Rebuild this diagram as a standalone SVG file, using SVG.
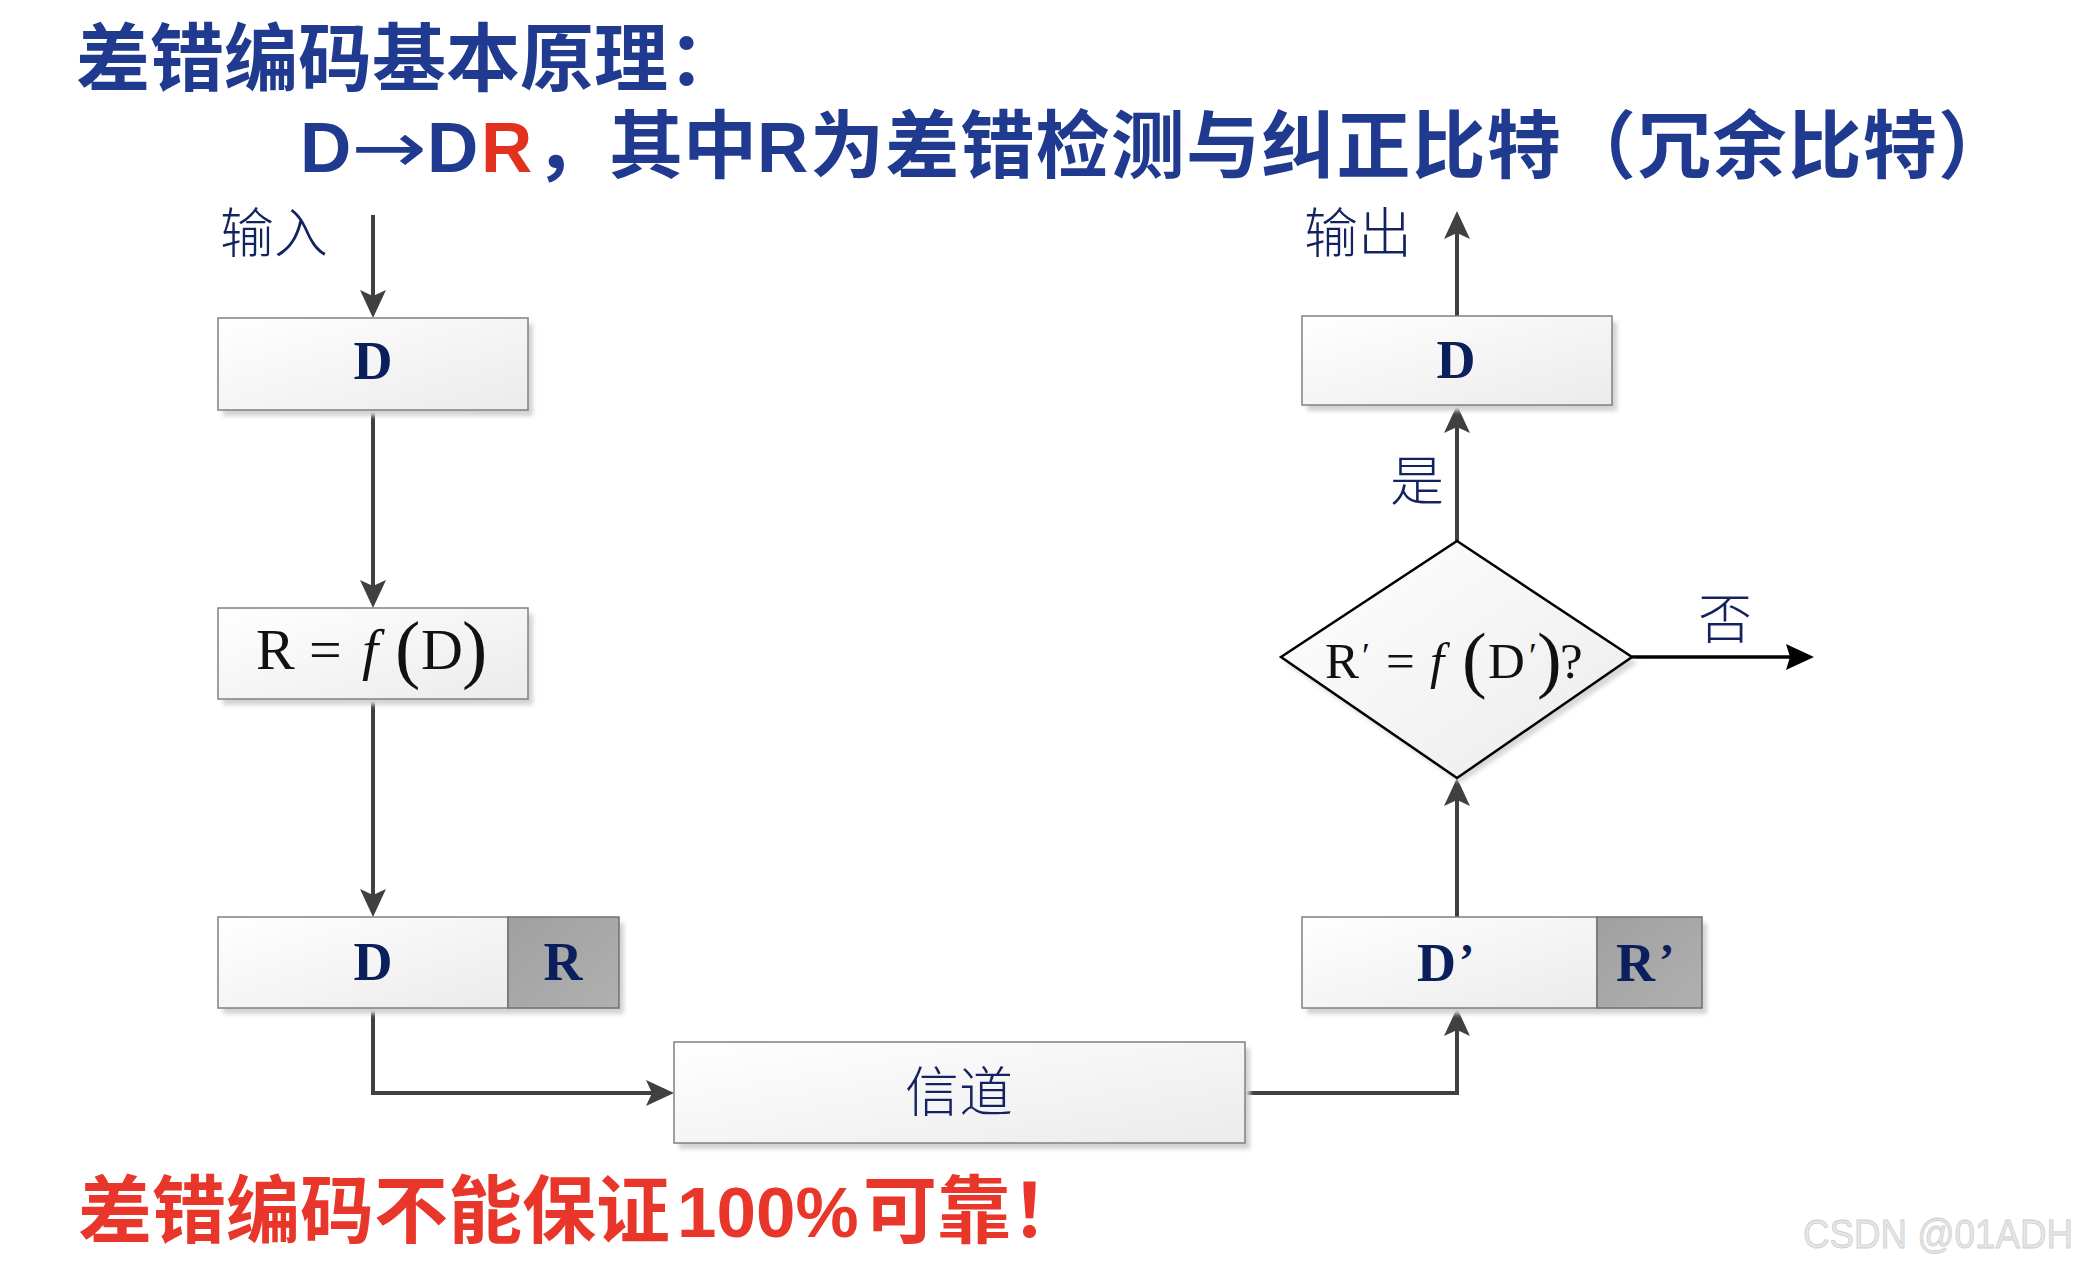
<svg xmlns="http://www.w3.org/2000/svg" width="2081" height="1268" viewBox="0 0 2081 1268">
<defs>
<style>
.box{fill:url(#gBox);stroke:#808080;stroke-width:1.5}
.rbox{fill:url(#gR);stroke:#707070;stroke-width:1.5}
.shadow{fill:#d3d3d3;filter:url(#blur)}
.cjk{font-family:"Noto Sans CJK SC",sans-serif;font-weight:300;fill:#13235f;font-size:54px}
.bd{font-family:"Liberation Serif","Times New Roman",serif;font-weight:bold;font-size:54px;fill:#0B1F5C}
.math{font-family:"Liberation Serif","Times New Roman",serif;fill:#111111}
.conn{fill:none;stroke:#404040;stroke-width:4}
.title{font-family:"Liberation Sans","Noto Sans CJK SC",sans-serif;font-weight:bold}
.cn{font-family:"Noto Sans CJK SC",sans-serif;font-size:74px}
.lat{font-family:"Liberation Sans",Arial,sans-serif;font-size:71px}
</style>
<linearGradient id="gBox" x1="0" y1="0" x2="1" y2="1">
<stop offset="0" stop-color="#ffffff"/>
<stop offset="1" stop-color="#ebebeb"/>
</linearGradient>
<linearGradient id="gR" x1="0" y1="0" x2="1" y2="1">
<stop offset="0" stop-color="#a0a0a0"/>
<stop offset="1" stop-color="#b0b0b0"/>
</linearGradient>
<filter id="blur" x="-5%" y="-5%" width="110%" height="110%">
<feGaussianBlur stdDeviation="2"/>
</filter>
<marker id="arr" markerUnits="userSpaceOnUse" viewBox="0 0 28 26" markerWidth="28" markerHeight="26" refX="8" refY="13" orient="auto">
<path d="M0,0 L28,13 L0,26 L6,13 Z" fill="#404040"/>
</marker>
<marker id="arrK" markerUnits="userSpaceOnUse" viewBox="0 0 28 26" markerWidth="28" markerHeight="26" refX="8" refY="13" orient="auto">
<path d="M0,0 L28,13 L0,26 L4,13 Z" fill="#000000"/>
</marker>
</defs>
<rect width="2081" height="1268" fill="#ffffff"/>

<g id="titles" class="title">
<text x="76" y="85" class="cn" fill="#1F3A8F">差错编码基本原理：</text>
<text y="172" fill="#1F3A8F"><tspan x="300" class="lat">D</tspan><tspan x="351" font-family="DejaVu Sans, sans-serif" font-weight="normal" font-size="71" textLength="76" lengthAdjust="spacingAndGlyphs">→</tspan><tspan x="427" class="lat">D</tspan><tspan x="481" class="lat" fill="#E3311F">R</tspan><tspan x="535" class="cn">，其中</tspan><tspan x="757" class="lat">R</tspan><tspan x="810" class="cn" letter-spacing="1.2">为差错检测与纠正比特（冗余比特）</tspan></text>
<text y="1237" fill="#E8372A"><tspan x="78" class="cn">差错编码不能保证</tspan><tspan x="677" class="lat">100%</tspan><tspan x="863" class="cn">可靠！</tspan></text>
</g>

<g id="connectors">
<path class="conn" d="M373,215 V298" marker-end="url(#arr)"/>
<path class="conn" d="M373,410 V588" marker-end="url(#arr)"/>
<path class="conn" d="M373,699 V897" marker-end="url(#arr)"/>
<path class="conn" d="M373,1008 V1093 H654" marker-end="url(#arr)"/>
<path class="conn" d="M1245,1093 H1457 V1028" marker-end="url(#arr)"/>
<path class="conn" d="M1457,917 V798" marker-end="url(#arr)"/>
<path class="conn" d="M1457,541 V425" marker-end="url(#arr)"/>
<path class="conn" d="M1457,316 V231" marker-end="url(#arr)"/>
<path d="M1632,657 H1794" fill="none" stroke="#000" stroke-width="3.5" marker-end="url(#arrK)"/>
<text x="220" y="253" class="cjk">输入</text>
<text x="1304" y="253" class="cjk">输出</text>
<text x="1390" y="501" class="cjk">是</text>
<text x="1698" y="639" class="cjk">否</text>
</g>

<g id="node-d-in">
<rect class="shadow" x="223" y="324" width="310" height="92"/>
<rect class="box" x="218" y="318" width="310" height="92"/>
<text x="373" y="379" class="bd" text-anchor="middle">D</text>
</g>

<g id="node-rfd">
<rect class="shadow" x="223" y="614" width="310" height="91"/>
<rect class="box" x="218" y="608" width="310" height="91"/>
<text y="669" class="math" font-size="58"><tspan x="256">R</tspan><tspan x="309">=</tspan><tspan x="362" font-style="italic">f</tspan></text>
<text x="395" y="674" class="math" font-size="76">(</text>
<text x="421" y="669" class="math" font-size="58">D</text>
<text x="462" y="674" class="math" font-size="76">)</text>
</g>

<g id="node-dr">
<rect class="shadow" x="223" y="923" width="401" height="91"/>
<rect class="box" x="218" y="917" width="290" height="91"/>
<rect class="rbox" x="508" y="917" width="111" height="91"/>
<text x="373" y="980" class="bd" text-anchor="middle">D</text>
<text x="563" y="980" class="bd" text-anchor="middle">R</text>
</g>

<g id="node-channel">
<rect class="shadow" x="679" y="1048" width="571" height="101"/>
<rect class="box" x="674" y="1042" width="571" height="101"/>
<text x="959" y="1112" class="cjk" text-anchor="middle">信道</text>
</g>

<g id="node-dr-prime">
<rect class="shadow" x="1307" y="923" width="400" height="91"/>
<rect class="box" x="1302" y="917" width="295" height="91"/>
<rect class="rbox" x="1597" y="917" width="105" height="91"/>
<text x="1417" y="981" class="bd">D<tspan x="1459" dy="-5" font-size="46">’</tspan></text>
<text x="1616" y="981" class="bd">R<tspan x="1659" dy="-5" font-size="46">’</tspan></text>
</g>

<g id="node-check">
<polygon points="1461,547 1637,663 1461,783 1285,663" fill="#d8d8d8" filter="url(#blur)"/>
<polygon points="1457,541 1632,657 1457,778 1281,657" fill="url(#gBox)" stroke="#000" stroke-width="2.5"/>
<text y="678" class="math" font-size="51"><tspan x="1325">R</tspan><tspan x="1362" dy="-10" font-size="36">′</tspan><tspan x="1386" dy="10">=</tspan><tspan x="1430" font-style="italic">f</tspan></text>
<text x="1462" y="684" class="math" font-size="74">(</text>
<text y="678" class="math" font-size="51"><tspan x="1488">D</tspan><tspan x="1529" dy="-10" font-size="36">′</tspan></text>
<text x="1537" y="684" class="math" font-size="74">)</text>
<text x="1560" y="678" class="math" font-size="51">?</text>
</g>

<g id="node-d-out">
<rect class="shadow" x="1307" y="322" width="310" height="89"/>
<rect class="box" x="1302" y="316" width="310" height="89"/>
<text x="1456" y="378" class="bd" text-anchor="middle">D</text>
</g>

<text id="watermark" x="1803" y="1248" font-family="Liberation Sans, Arial, sans-serif" font-size="40" textLength="270" lengthAdjust="spacingAndGlyphs" fill="#e6e6e6" stroke="#cfcfcf" stroke-width="0.8">CSDN @01ADH</text>
</svg>
